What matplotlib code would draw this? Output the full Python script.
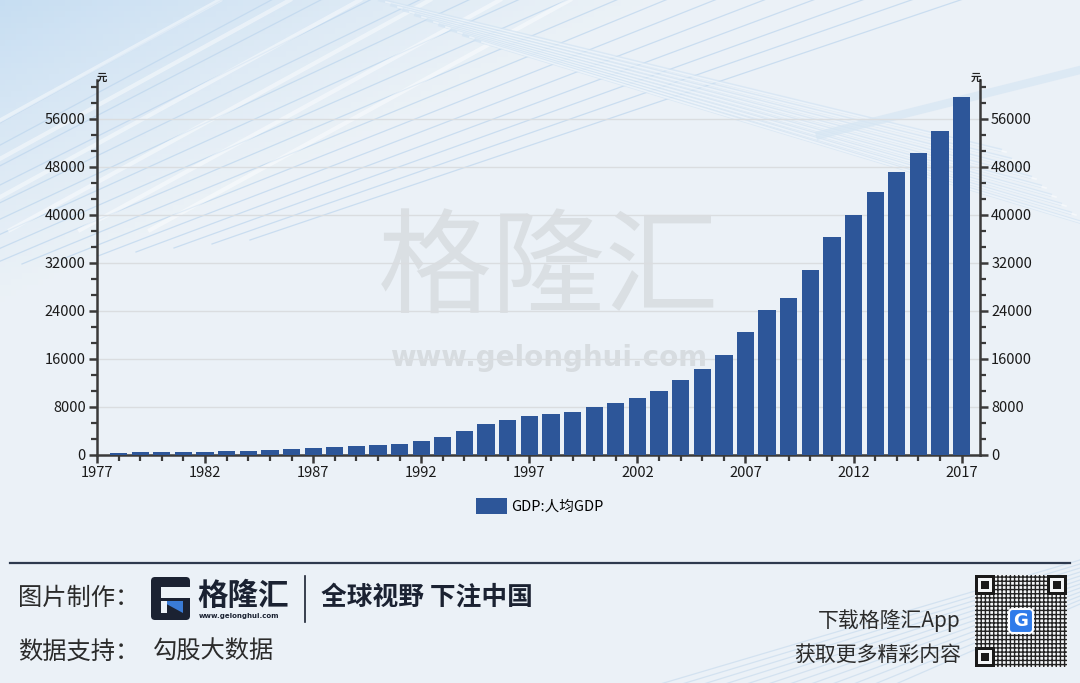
import numpy as np
import matplotlib
matplotlib.use("Agg")
import matplotlib.pyplot as plt
from matplotlib.patches import Rectangle, FancyBboxPatch, Polygon
from matplotlib.ticker import MultipleLocator

plt.rcParams['font.family'] = ['Noto Sans CJK SC', 'DejaVu Sans']

# China GDP per capita (yuan), 1978-2017
years = list(range(1978, 2018))
gdp_per_capita = [385, 423, 468, 497, 533, 588, 702, 866, 973, 1123,
                  1378, 1536, 1663, 1912, 2334, 3027, 4081, 5091, 5898, 6481,
                  6860, 7229, 7942, 8717, 9506, 10666, 12487, 14368, 16738, 20505,
                  24121, 26222, 30876, 36403, 40007, 43852, 47203, 50251, 53980, 59660]
series_name = "GDP:人均GDP"
y_ticks = [0, 8000, 16000, 24000, 32000, 40000, 48000, 56000]
x_ticks = [1977, 1982, 1987, 1992, 1997, 2002, 2007, 2012, 2017]

W, H = 1080, 683
fig = plt.figure(figsize=(W / 100, H / 100), dpi=100)
fig.patch.set_facecolor('#ECF2F7')

# background: soft gradient + decorative sweeping lines
bg = fig.add_axes([0, 0, 1, 1], zorder=-2)
bg.set_xlim(0, W)
bg.set_ylim(H, 0)
bg.axis('off')
gx, gy = np.meshgrid(np.linspace(0, 1, 200), np.linspace(0, 1, 120))
shade = np.clip(1 - (gx * 1.6 + gy * 2.2), 0, 1) ** 1.2
base = np.array([0.925, 0.949, 0.969])
blue = np.array([0.78, 0.87, 0.95])
img = base[None, None, :] * (1 - shade[..., None]) + blue[None, None, :] * shade[..., None]
bg.imshow(img, extent=[0, W, H, 0], aspect='auto', zorder=0)
# up-right diagonals, top left
for k in range(16):
    x0 = -320 + k * 38
    bg.plot([x0, x0 + 560 + k * 12], [300 - k * 4, -10], color='#BFD7EE', lw=0.9,
            alpha=0.75, zorder=1)
for k in range(6):
    x0 = -200 + k * 70
    bg.plot([x0, x0 + 420], [230, 0], color='white', lw=3, alpha=0.45, zorder=1)
# down-right streaks, top middle
for k in range(9):
    bg.plot([380 + k * 12, 1000 + k * 10], [0 + k * 5, 150 + k * 9], color='#D3E4F3',
            lw=2.5, alpha=0.7, zorder=1)
    bg.plot([386 + k * 12, 1006 + k * 10], [2 + k * 5, 152 + k * 9], color='white',
            lw=1.2, alpha=0.5, zorder=1)
bg.plot([820, 1080], [135, 70], color='#D6E6F3', lw=6, alpha=0.7, zorder=1)
# footer sweeps, bottom right
for k in range(12):
    bg.plot([640 + k * 22, 1080], [690, 560 + k * 4], color='#C9DCEE', lw=0.9,
            alpha=0.7, zorder=1)

# watermark
fig.text(549 / W, 1 - 272 / H, "格隆汇", fontsize=82, color='#DADFE3',
         ha='center', va='center', zorder=-1)
fig.text(549 / W, 1 - 358 / H, "www.gelonghui.com", fontsize=20, color='#D7DCE0',
         fontweight='bold', family='DejaVu Sans', ha='center', va='center', zorder=-1)

# main axes
left, right, bottom, top = 97, 980, 455, 80
ax = fig.add_axes([left / W, 1 - bottom / H, (right - left) / W, (bottom - top) / H])
ax.set_facecolor('none')
ax.bar(years, gdp_per_capita, width=0.8, color='#2D5699', label=series_name, zorder=3)
ax.set_xlim(1977, 2017.85)
ax.set_ylim(0, 62500)
ax.set_xticks(x_ticks)
ax.xaxis.set_minor_locator(MultipleLocator(1))
ax.set_yticks(y_ticks)
ax.yaxis.set_minor_locator(MultipleLocator(8000 / 3))
ax.grid(axis='y', color='#DADDE0', lw=1, zorder=0)
for s in ['top', 'right']:
    ax.spines[s].set_visible(False)
for s in ['left', 'bottom']:
    ax.spines[s].set_color('#3A3A3A')
    ax.spines[s].set_linewidth(1.8)
ax.tick_params(which='major', direction='out', length=6, width=1.8, color='#3A3A3A',
               labelsize=10.5, labelcolor='#1A1A1A', pad=2)
ax.tick_params(which='minor', direction='out', length=4, width=1.6, color='#3A3A3A')

ax2 = ax.twinx()
ax2.set_ylim(ax.get_ylim())
ax2.set_yticks(y_ticks)
ax2.yaxis.set_minor_locator(MultipleLocator(8000 / 3))
for s in ['top', 'left', 'bottom']:
    ax2.spines[s].set_visible(False)
ax2.spines['right'].set_color('#3A3A3A')
ax2.spines['right'].set_linewidth(1.8)
ax2.tick_params(which='major', direction='out', length=6, width=1.8, color='#3A3A3A',
                labelsize=10.5, labelcolor='#1A1A1A', pad=2)
ax2.tick_params(which='minor', direction='out', length=4, width=1.6, color='#3A3A3A')

fig.text(102 / W, 1 - 78 / H, "元", fontsize=7.5, fontweight='bold', color='#222222',
         ha='center', va='center')
fig.text(976 / W, 1 - 78 / H, "元", fontsize=7.5, fontweight='bold', color='#222222',
         ha='center', va='center')

ax.legend(loc='center', bbox_to_anchor=(540 / W, 1 - 506 / H), bbox_transform=fig.transFigure,
          frameon=False, fontsize=10.5, handlelength=2.1, handleheight=1.25, handletextpad=0.3)

# footer
fg = fig.add_axes([0, 0, 1, 1], zorder=5)
fg.set_xlim(0, W)
fg.set_ylim(H, 0)
fg.axis('off')
fg.plot([10, 1070], [563, 563], color='#2E3A4E', lw=1.6)
fg.text(18, 598, "图片制作：", fontsize=17.5, color='#2B2B2B', va='center')
fg.text(18, 652, "数据支持：", fontsize=17.5, color='#2B2B2B', va='center')
fg.text(153, 652, "勾股大数据", fontsize=17.5, color='#2B2B2B', va='center')

# logo mark
fg.add_patch(FancyBboxPatch((151, 577), 39, 43, boxstyle='round,pad=0,rounding_size=4',
                            facecolor='#1B2232', edgecolor='none'))
fg.add_patch(Rectangle((161, 587), 29, 11, facecolor='#ECF2F7', edgecolor='none'))
fg.add_patch(Polygon([[161, 601], [183, 601], [183, 613]], closed=True,
                     facecolor='#3A7BD5', edgecolor='none'))
fg.add_patch(Rectangle((161, 601), 6, 12, facecolor='#ECF2F7', edgecolor='none'))
fg.text(197, 596, "格隆汇", fontsize=22, color='#1B2232', fontweight='bold', va='center')
fg.text(199, 616, "www.gelonghui.com", fontsize=5, color='#1B2232', fontweight='bold',
        family='DejaVu Sans', va='center')
fg.plot([305, 305], [576, 622], color='#1B2232', lw=1.2)
fg.text(321, 597, "全球视野 下注中国", fontsize=18.5, color='#1B2232', fontweight='bold',
        va='center')

fg.text(961, 621, "下载格隆汇App", fontsize=15, color='#2B2B2B', ha='right', va='center')
fg.text(961, 655, "获取更多精彩内容", fontsize=15, color='#2B2B2B', ha='right', va='center')

# QR code placeholder
qx, qy, qs = 975, 575, 92
fg.add_patch(Rectangle((qx, qy), qs, qs, facecolor='#F4F6F8', edgecolor='none'))
fg.add_patch(Rectangle((qx, qy), qs, qs, facecolor='none', edgecolor='#222222',
                       hatch='++++', lw=0))
for fx, fy in [(qx, qy), (qx + qs - 20, qy), (qx, qy + qs - 20)]:
    fg.add_patch(Rectangle((fx, fy), 20, 20, facecolor='#1A1A1A', edgecolor='none'))
    fg.add_patch(Rectangle((fx + 3, fy + 3), 14, 14, facecolor='#F4F6F8', edgecolor='none'))
    fg.add_patch(Rectangle((fx + 6, fy + 6), 8, 8, facecolor='#1A1A1A', edgecolor='none'))
fg.add_patch(FancyBboxPatch((qx + 34, qy + 34), 24, 24, boxstyle='round,pad=0,rounding_size=4',
                            facecolor='#2F7BEA', edgecolor='white', lw=1.5))
fg.text(qx + 46, qy + 46.5, "G", fontsize=13, color='white', fontweight='bold',
        ha='center', va='center', family='DejaVu Sans')

fig.savefig("out.png", dpi=100, facecolor=fig.get_facecolor())
